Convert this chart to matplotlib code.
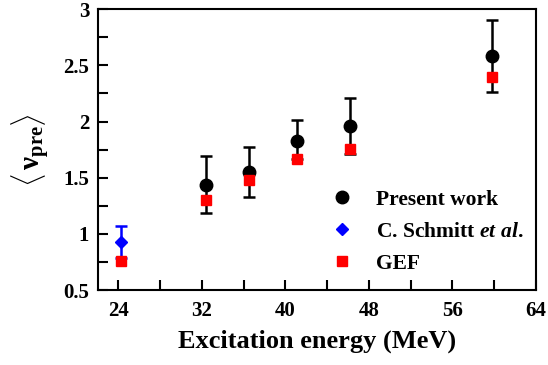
import matplotlib
matplotlib.use("Agg")
import matplotlib.pyplot as plt
from matplotlib.lines import Line2D

# Present work
e_pw = [32.4, 36.5, 41.1, 46.2, 59.8]
nu_pw = [1.44, 1.55, 1.83, 1.96, 2.58]
err_lo = [0.25, 0.22, 0.16, 0.25, 0.32]
err_hi = [0.25, 0.22, 0.18, 0.25, 0.32]

# C. Schmitt et al.
e_cs = [24.2]
nu_cs = [0.93]
err_cs = [0.14]

# GEF
e_gef = [24.2, 32.4, 36.5, 41.1, 46.2, 59.8]
nu_gef = [0.76, 1.30, 1.48, 1.67, 1.76, 2.40]

plt.rcParams["font.family"] = ["Liberation Serif", "DejaVu Serif"]
plt.rcParams["font.weight"] = "bold"
plt.rcParams["mathtext.fontset"] = "custom"
plt.rcParams["mathtext.rm"] = "Liberation Serif:bold"
plt.rcParams["mathtext.bf"] = "Liberation Serif:bold"
plt.rcParams["mathtext.it"] = "Liberation Serif:bold:italic"

fig = plt.figure(figsize=(5.48, 3.65), dpi=100)
ax = fig.add_axes([0.178, 0.205, 0.8, 0.77])

ax.errorbar(e_pw, nu_pw, yerr=[err_lo, err_hi], fmt="o", color="black",
            markersize=9, elinewidth=1.8, capsize=4.5, capthick=1.8, zorder=3)
ax.errorbar(e_cs, nu_cs, yerr=err_cs, fmt="D", color="blue",
            markersize=6, elinewidth=1.8, capsize=4.5, capthick=1.8, zorder=3)
ax.plot(e_gef, nu_gef, "s", color="red", markersize=7.5, zorder=4)

ax.set_xlim(22, 64)
ax.set_ylim(0.5, 3)
ax.set_xticks([24, 32, 40, 48, 56, 64])
ax.set_xticks(range(28, 64, 8), minor=True)
ax.set_yticks([0.5, 1, 1.5, 2, 2.5, 3])
ax.set_yticklabels(["0.5", "1", "1.5", "2", "2.5", "3"])
ax.set_yticks([0.75, 1.25, 1.75, 2.25, 2.75], minor=True)
ax.tick_params(which="both", direction="in", top=False, right=False,
               width=1.5, length=7, labelsize=15)
ax.tick_params(axis="x", pad=8)
ax.tick_params(axis="y", pad=6)
for s in ax.spines.values():
    s.set_linewidth(1.5)

ax.set_xlabel("Excitation energy (MeV)", fontsize=19, fontweight="bold", labelpad=6)
ax.set_ylabel("$\\langle\\,\\mathrm{ν}_{\\mathbf{pre}}\\rangle$", fontsize=21, labelpad=8)

handles = [
    Line2D([], [], marker="o", color="black", linestyle="none", markersize=9),
    Line2D([], [], marker="D", color="blue", linestyle="none", markersize=6),
    Line2D([], [], marker="s", color="red", linestyle="none", markersize=7.5),
]
labels = ["Present work", "C. Schmitt $\\mathit{et\\ al.}$", "GEF"]
ax.legend(handles, labels, loc="upper left", bbox_to_anchor=(0.483, 0.426),
          frameon=False, handletextpad=1.0, labelspacing=0.55,
          handlelength=1.2, numpoints=1, prop={"weight": "bold", "size": 15.5})

fig.savefig("out.png", dpi=100)
